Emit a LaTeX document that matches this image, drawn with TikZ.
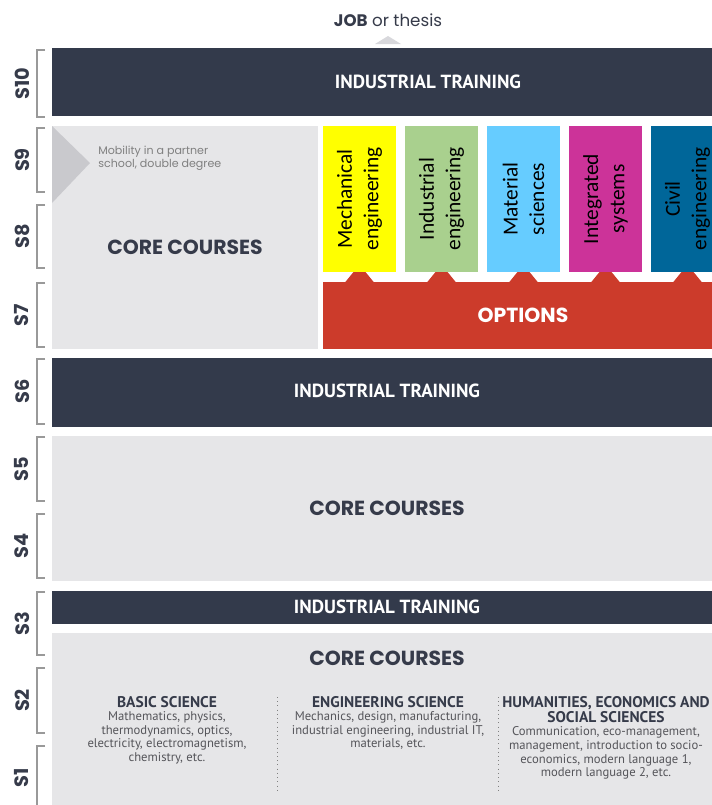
\documentclass[tikz,border=0pt]{standalone}
\usepackage{fontspec}
\setmainfont{PT Sans}
\newfontfamily\headfont{Poppins}
\newfontfamily\optfont{Carlito}
\usetikzlibrary{positioning}

\definecolor{barnavy}{RGB}{51,58,75}
\definecolor{coregray}{RGB}{230,230,232}
\definecolor{trigray}{RGB}{201,201,205}
\definecolor{jobgray}{RGB}{216,216,220}
\definecolor{optred}{RGB}{204,59,43}
\definecolor{optyellow}{RGB}{255,255,0}
\definecolor{optgreen}{RGB}{169,208,142}
\definecolor{optcyan}{RGB}{102,204,255}
\definecolor{optmagenta}{RGB}{204,51,153}
\definecolor{optblue}{RGB}{0,102,153}
\definecolor{headdark}{RGB}{54,59,74}
\definecolor{bodygray}{RGB}{85,85,90}

\begin{document}
\begin{tikzpicture}[x=0.02cm, y=-0.02cm,
	semlabel/.style={rotate=90, font=\headfont\bfseries\fontsize{11}{12}\selectfont, text=headdark},
	bracketline/.style={draw=gray!80, line width=0.6pt},
	bartext/.style={font=\bfseries\fontsize{10.8}{12}\selectfont, text=white},
	coretext/.style={font=\headfont\bfseries\fontsize{11.6}{13}\selectfont, text=headdark},
	opttext/.style={rotate=90, align=center, font=\optfont\fontsize{12.2}{15}\selectfont, text=black},
	colhead/.style={anchor=north, align=center, inner sep=1pt, font=\bfseries\fontsize{8.8}{8.6}\selectfont, text=headdark},
	colbody/.style={align=center, inner sep=1pt, font=\fontsize{7.2}{7.8}\selectfont, text=bodygray}]
		% --- Geometry Defs ---
		\def\xL{52}
		\def\xR{712}
		\useasboundingbox (0,0) rectangle (712,805);
		\clip (0,0) rectangle (712,805);
		
		% --- Goal on top ---
		\node[font=\headfont\fontsize{9.5}{11}\selectfont, text=headdark] (job) at (388,20) {{\bfseries JOB} or thesis};
		\fill[jobgray] (375,44) -- (388,36) -- (401,44) -- cycle;
		
		% --- Semester brackets and labels ---
		\foreach \lab/\top/\bot in {S10/50/117, S9/128/192, S8/205/268, S7/283/347, S6/359/424, S5/437/501, S4/514/578, S3/592/655, S2/668/733, S1/746/810}{
			\draw[bracketline] (45,\top) -- (37,\top) -- (37,\bot) -- (45,\bot);
			\node[semlabel] (lab\lab) at (22,{(\top+\bot)/2}) {\lab};
		}
		
		% --- S10 ---
		\fill[barnavy] (\xL,48) rectangle (\xR,116);
		\node[bartext] (train10) at (428,82) {INDUSTRIAL TRAINING};
		
		% --- S7 to S9: core courses + mobility ---
		\fill[coregray] (\xL,126) rectangle (318,349);
		\fill[trigray] (\xL,126) -- (90,163) -- (\xL,203) -- cycle;
		\node[anchor=north west, align=left, inner sep=0pt, font=\headfont\fontsize{6.3}{7}\selectfont, text=gray] (mobility) at (98,146) {Mobility in a partner\\school, double degree};
		\node[coretext] (core9) at (185,247) {CORE COURSES};
		
		% --- Options ---
		\fill[optred] (323,282) rectangle (\xR,349);
		\node[font=\headfont\bfseries\fontsize{11.6}{13}\selectfont, text=white] (options) at (523,315) {OPTIONS};
		\foreach \name/\col/\cx/\txt in {mech/optyellow/359.5/{Mechanical\\engineering}, indus/optgreen/441.5/{Industrial\\engineering}, mater/optcyan/523.5/{Material\\sciences}, integ/optmagenta/605.5/{Integrated\\systems}, civil/optblue/687.5/{Civil\\engineering}}{
			\fill[\col] (\cx-36.5,126) rectangle (\cx+36.5,272);
			\fill[optred] (\cx-15,283) -- (\cx-6,272) -- (\cx+6,272) -- (\cx+15,283) -- cycle;
			\node[opttext] (\name) at (\cx,199) {\txt};
		}
		
		% --- S6 ---
		\fill[barnavy] (\xL,358) rectangle (\xR,427);
		\node[bartext] (train6) at (387,391) {INDUSTRIAL TRAINING};
		
		% --- S4 and S5 ---
		\fill[coregray] (\xL,436) rectangle (\xR,581);
		\node[coretext] (core45) at (387,508) {CORE COURSES};
		
		% --- S3 ---
		\fill[barnavy] (\xL,591) rectangle (\xR,624);
		\node[bartext] (train3) at (387,607) {INDUSTRIAL TRAINING};
		
		% --- S1 to S3: core courses ---
		\fill[coregray] (\xL,633) rectangle (\xR,805);
		\node[coretext] (core13) at (387,658) {CORE COURSES};
		\draw[dotted, gray] (277,697) -- (277,792);
		\draw[dotted, gray] (498,697) -- (498,792);
		
		\node[colhead] (basichead) at (167,694) {BASIC SCIENCE};
		\node[colbody, below=0pt of basichead] (basicbody) {Mathematics, physics,\\thermodynamics, optics,\\electricity, electromagnetism,\\chemistry, etc.};
		
		\node[colhead] (enghead) at (388,694) {ENGINEERING SCIENCE};
		\node[colbody, below=0pt of enghead] (engbody) {Mechanics, design, manufacturing,\\industrial engineering, industrial IT,\\materials, etc.};
		
		\node[colhead] (humhead) at (606,694) {HUMANITIES, ECONOMICS AND\\SOCIAL SCIENCES};
		\node[colbody, below=0pt of humhead] (humbody) {Communication, eco-management,\\management, introduction to socio-\\economics, modern language 1,\\modern language 2, etc.};
		
	\end{tikzpicture}
\end{document}
